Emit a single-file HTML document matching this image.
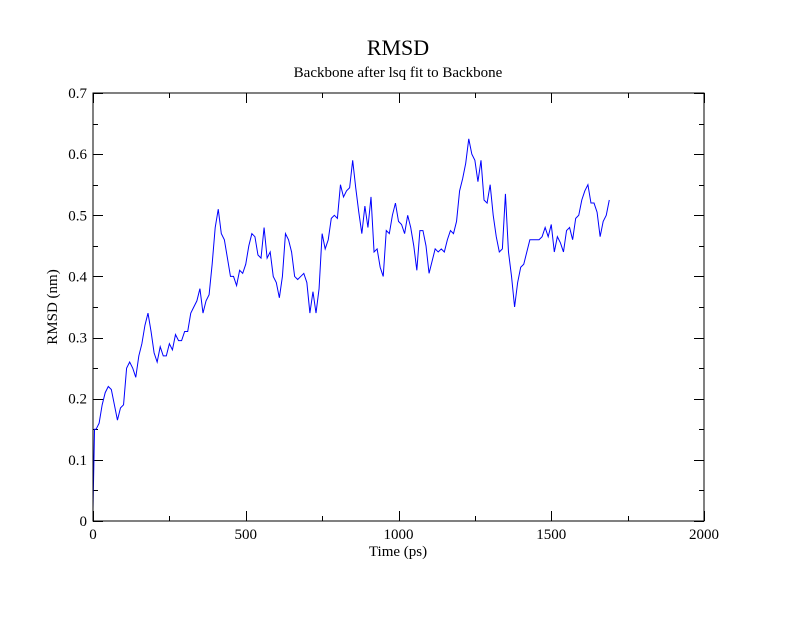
<!DOCTYPE html>
<html><head><meta charset="utf-8"><style>
body{margin:0;background:#fff}
svg text{font-family:"Liberation Serif",serif;fill:#000}
</style></head><body>
<svg id="chart" width="792" height="612" viewBox="0 0 792 612">
<rect x="0" y="0" width="792" height="612" fill="#fff"/>
<text x="398" y="55" font-size="22" text-anchor="middle">RMSD</text>
<text x="398" y="77" font-size="15" text-anchor="middle">Backbone after lsq fit to Backbone</text>
<g id="axes"></g>
<path id="line" fill="none" stroke="#0000ff" stroke-width="1"/>
<rect x="93" y="93" width="611" height="428" fill="none" stroke="#000" stroke-width="1"/>
<text x="398" y="556" font-size="15" text-anchor="middle">Time (ps)</text>
<text x="57" y="307" font-size="15" text-anchor="middle" transform="rotate(-90 57 307)">RMSD (nm)</text>
</svg>
<script>
const times=[0,5,10,20,30,40,50,60,70,80,90,100,110,120,130,140,150,160,170,180,190,200,210,220,230,240,250,260,270,280,290,300,310,320,330,340,350,360,370,380,390,400,410,420,430,440,450,460,470,480,490,500,510,520,530,540,550,560,570,580,590,600,610,620,630,640,650,660,670,680,690,700,710,720,730,740,750,760,770,780,790,800,810,820,830,840,850,860,870,880,890,900,910,920,930,940,950,960,970,980,990,1000,1010,1020,1030,1040,1050,1060,1070,1080,1090,1100,1110,1120,1130,1140,1150,1160,1170,1180,1190,1200,1210,1220,1230,1240,1250,1260,1270,1280,1290,1300,1310,1320,1330,1340,1350,1360,1370,1380,1390,1400,1410,1420,1430,1440,1450,1460,1470,1480,1490,1500,1510,1520,1530,1540,1550,1560,1570,1580,1590,1600,1610,1620,1630,1640,1650,1660,1670,1680,1690];
const rmsd=[0.02,0.15,0.15,0.16,0.19,0.21,0.22,0.215,0.19,0.165,0.185,0.19,0.25,0.26,0.25,0.235,0.27,0.29,0.32,0.34,0.31,0.275,0.26,0.285,0.27,0.27,0.29,0.28,0.305,0.295,0.295,0.31,0.31,0.34,0.35,0.36,0.38,0.34,0.36,0.37,0.42,0.48,0.51,0.47,0.46,0.43,0.40,0.40,0.385,0.41,0.405,0.42,0.45,0.47,0.465,0.435,0.43,0.48,0.43,0.44,0.40,0.39,0.365,0.40,0.47,0.46,0.44,0.40,0.395,0.40,0.405,0.39,0.34,0.375,0.34,0.38,0.47,0.445,0.46,0.495,0.50,0.495,0.55,0.53,0.54,0.545,0.59,0.545,0.505,0.47,0.515,0.48,0.53,0.44,0.445,0.415,0.40,0.475,0.47,0.50,0.52,0.49,0.485,0.47,0.50,0.48,0.45,0.41,0.475,0.475,0.45,0.405,0.425,0.445,0.44,0.445,0.44,0.46,0.475,0.47,0.49,0.54,0.56,0.585,0.625,0.60,0.59,0.555,0.59,0.525,0.52,0.55,0.50,0.465,0.44,0.445,0.535,0.44,0.40,0.35,0.39,0.415,0.42,0.44,0.46,0.46,0.46,0.46,0.465,0.48,0.465,0.485,0.44,0.465,0.455,0.44,0.475,0.48,0.46,0.495,0.50,0.525,0.54,0.55,0.52,0.52,0.505,0.465,0.49,0.50,0.525];
const xTicks=[0,500,1000,1500,2000];
const yTicks=[0,0.1,0.2,0.3,0.4,0.5,0.6,0.7];
const X0=93,X1=704,Y0=521,Y1=93;
const sx=v=>X0+(v-0)/2000*(X1-X0);
const sy=v=>Y0-(v-0)/0.7*(Y0-Y1);
const NS="http://www.w3.org/2000/svg";
const g=document.getElementById('axes');
function ln(x1,y1,x2,y2,name){const l=document.createElementNS(NS,'line');l.setAttribute('x1',x1);l.setAttribute('y1',y1);l.setAttribute('x2',x2);l.setAttribute('y2',y2);l.setAttribute('stroke','#000');


g.appendChild(l);}
function tx(x,y,s,anchor,name){const t=document.createElementNS(NS,'text');t.setAttribute('x',x);t.setAttribute('y',y);t.setAttribute('font-size','15');t.setAttribute('text-anchor',anchor);t.textContent=s;


g.appendChild(t);}
xTicks.forEach(v=>{const x=Math.round(sx(v))+0.5;ln(x,Y0,x,Y0-10,'x-major-tick');ln(x,Y1,x,Y1+10,'x-major-tick-top');tx(sx(v),539,String(v),'middle','x-tick-label');});
for(let v=250;v<2000;v+=500){const x=Math.round(sx(v))+0.5;ln(x,Y0,x,Y0-5,'x-minor-tick');ln(x,Y1,x,Y1+5,'x-minor-tick-top');}
yTicks.forEach(v=>{const y=Math.round(sy(v))+0.5;ln(X0,y,X0+10,y,'y-major-tick');ln(X1,y,X1-10,y,'y-major-tick-right');tx(87,sy(v)+5,v===0?'0':v.toFixed(1),'end','y-tick-label');});
for(let i=0;i<7;i++){const y=Math.round(sy(i*0.1+0.05))+0.5;ln(X0,y,X0+5,y,'y-minor-tick');ln(X1,y,X1-5,y,'y-minor-tick-right');}
let d='';times.forEach((t,i)=>{d+=(i?'L':'M')+sx(t).toFixed(2)+','+sy(rmsd[i]).toFixed(2);});
document.getElementById('line').setAttribute('d',d);
</script>
</body></html>
